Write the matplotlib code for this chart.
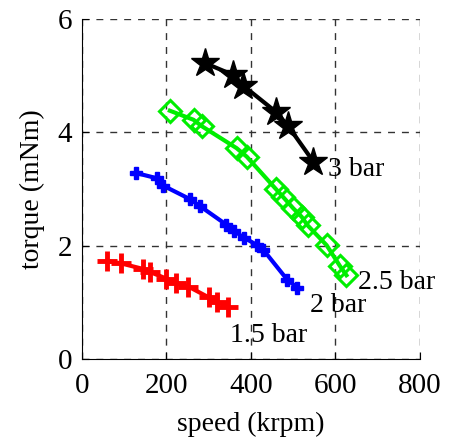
import matplotlib
matplotlib.use('Agg')
import matplotlib.pyplot as plt

# speed (krpm) / torque (mNm) for each supply pressure
speed_15 = [60, 92, 145, 160, 200, 222, 252, 300, 320, 345]
torque_15 = [1.73, 1.69, 1.59, 1.54, 1.42, 1.35, 1.28, 1.09, 1.01, 0.92]

speed_2 = [129, 177, 192, 256, 279, 342, 360, 384, 415, 429, 486, 510]
torque_2 = [3.28, 3.19, 3.06, 2.82, 2.70, 2.37, 2.26, 2.14, 2.01, 1.93, 1.40, 1.26]

speed_25 = [208, 264, 283, 366, 390, 459, 476, 500, 520, 534, 579, 610, 626]
torque_25 = [4.38, 4.22, 4.11, 3.72, 3.57, 3.00, 2.86, 2.66, 2.51, 2.36, 2.01, 1.65, 1.48]

speed_3 = [291, 358, 382, 459, 488, 548]
torque_3 = [5.22, 5.01, 4.82, 4.36, 4.11, 3.48]

labels = ['1.5 bar', '2 bar', '2.5 bar', '3 bar']
label_pos = [(350, 0.42), (540, 0.95), (653, 1.36), (582, 3.35)]

plt.rcParams['font.family'] = ['Liberation Serif', 'DejaVu Serif']
plt.rcParams['font.size'] = 20

fig = plt.figure(figsize=(4.53, 4.37), dpi=100)
ax = fig.add_axes([0.181, 0.178, 0.746, 0.779])

ax.plot(speed_15, torque_15, color='red', lw=3, marker='+', ms=14, mew=3.5)
ax.plot(speed_2, torque_2, color='blue', lw=3, marker='P', ms=9, mew=1)
ax.plot(speed_25, torque_25, color='#00ee00', lw=3, marker='D', ms=11,
        mfc='none', mew=2.2)
ax.plot(speed_3, torque_3, color='black', lw=3, marker='*', ms=21)

for text, (x, y) in zip(labels, label_pos):
    ax.text(x, y, text, ha='left', va='center', fontsize=20)

ax.set_xlim(0, 800)
ax.set_ylim(0, 6)
ax.set_xticks([0, 200, 400, 600, 800])
ax.set_yticks([0, 2, 4, 6])
ax.grid(True, ls=(0, (5, 5)), color='#333333', lw=1)
ax.set_axisbelow(True)
ax.spines['top'].set_visible(False)
ax.spines['right'].set_visible(False)
ax.tick_params(direction='in', length=5, labelsize=21)
ax.tick_params(axis='x', pad=10)
ax.tick_params(axis='y', pad=7)
ax.set_xlabel('speed (krpm)', labelpad=9)
ax.set_ylabel('torque (mNm)', labelpad=9)

fig.savefig('out.png', dpi=100)
